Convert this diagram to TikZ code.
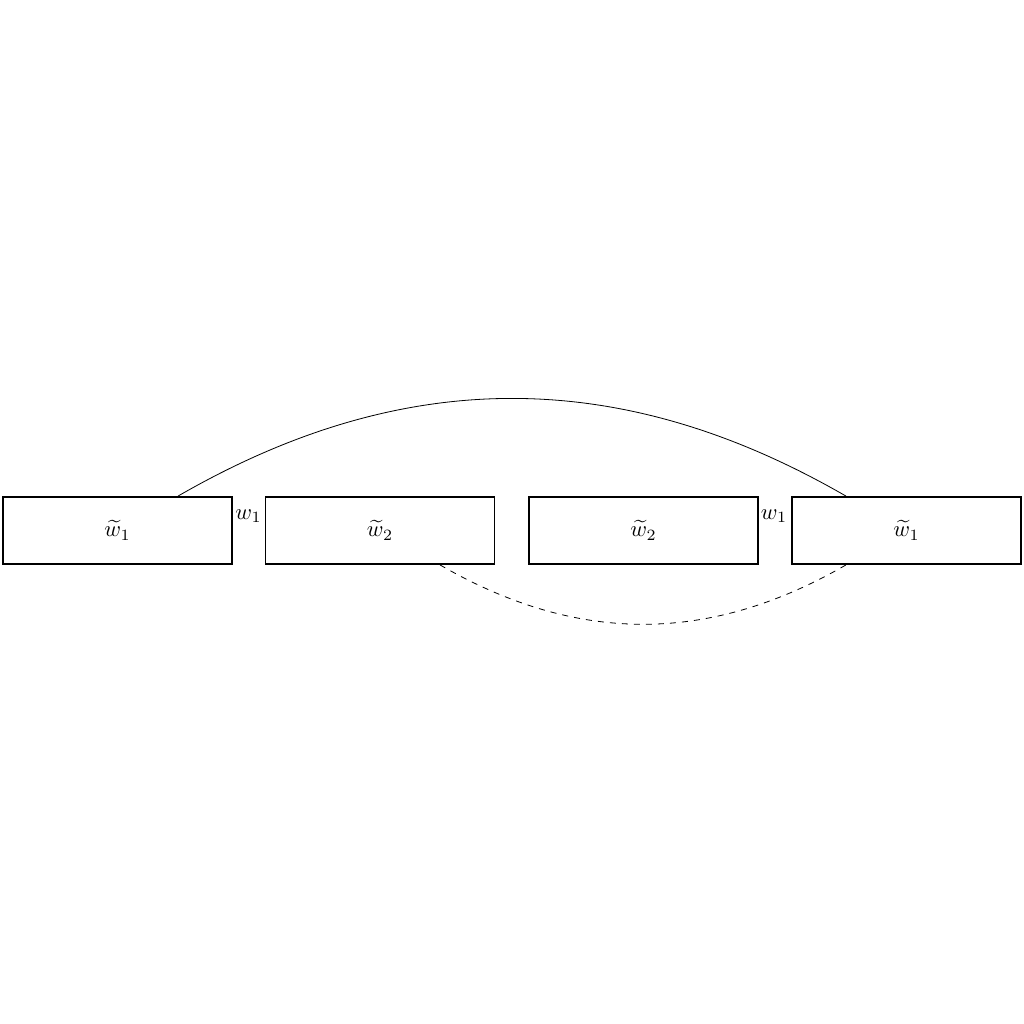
\documentclass[tikz,border=0pt]{standalone}
\usepackage{amsmath}
\begin{document}
\begin{tikzpicture}[x=0.0175cm,y=-0.0175cm,
  every node/.style={scale=1.12},
  wbox/.style={draw,thick,minimum width=229*0.0175cm/1.12,minimum height=67*0.0175cm/1.12,inner sep=0pt}]
\useasboundingbox (0,0) rectangle (1024,1024);
\node[wbox] (b1) at (117.5,530.5) {$\widetilde{w}_1$};
\node[wbox] (b2) at (380,530.5) {$\widetilde{w}_2$};
\node[wbox] (b3) at (643.5,530.5) {$\widetilde{w}_2$};
\node[wbox] (b4) at (906.5,530.5) {$\widetilde{w}_1$};
\node[inner sep=0pt] (l1) at (248.5,516) {$w_1$};
\node[inner sep=0pt] (l2) at (774,516) {$w_1$};
\draw ([xshift=60.5*0.0175cm]b1.north) to[bend left=30] ([xshift=-60.5*0.0175cm]b4.north);
\draw[dashed] ([xshift=60*0.0175cm]b2.south) to[bend right=30] ([xshift=-60.5*0.0175cm]b4.south);
\end{tikzpicture}
\end{document}
